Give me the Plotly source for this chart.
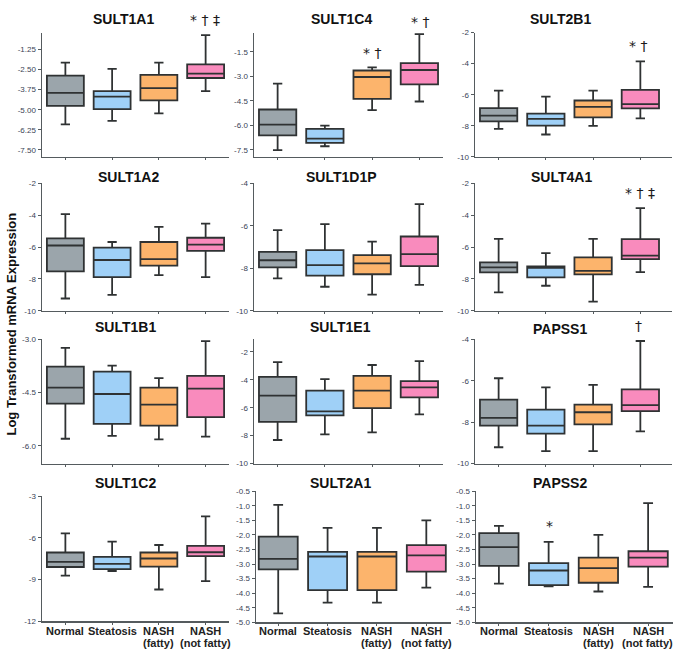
import plotly.graph_objects as go

W, H = 674, 655

groups = ["Normal", "Steatosis", "NASH<br>(fatty)", "NASH<br>(not fatty)"]
fill_colors = ["#9ba5ab", "#9fd0f7", "#fcb46c", "#f98bbd"]

genes = ["SULT1A1", "SULT1C4", "SULT2B1",
         "SULT1A2", "SULT1D1P", "SULT4A1",
         "SULT1B1", "SULT1E1", "PAPSS1",
         "SULT1C2", "SULT2A1", "PAPSS2"]

# each row: [lower whisker, Q1, median, Q3, upper whisker] for Normal, Steatosis, NASH fatty, NASH not fatty
SULT1A1 = [[-5.91, -4.76, -3.95, -2.88, -2.07], [-5.70, -4.97, -4.19, -3.84, -2.46],
           [-5.23, -4.42, -3.66, -2.84, -2.07], [-3.84, -3.03, -2.76, -2.19, -0.37]]
SULT1C4 = [[-7.52, -6.61, -5.96, -5.03, -3.45], [-7.28, -7.07, -6.81, -6.22, -6.02],
           [-5.07, -4.38, -3.04, -2.64, -2.45], [-4.54, -3.49, -2.61, -2.19, -0.41]]
SULT2B1 = [[-8.20, -7.71, -7.35, -6.86, -5.74], [-8.56, -7.99, -7.56, -7.22, -6.12],
           [-8.01, -7.46, -6.78, -6.37, -5.74], [-7.52, -6.88, -6.61, -5.69, -3.85]]
SULT1A2 = [[-9.23, -7.52, -5.90, -5.45, -3.92], [-9.00, -7.89, -6.81, -6.03, -5.68],
           [-7.76, -7.17, -6.75, -5.68, -4.73], [-7.89, -6.24, -5.84, -5.41, -4.52]]
SULT1D1P = [[-8.47, -7.96, -7.62, -7.22, -6.20], [-8.87, -8.34, -7.85, -7.14, -5.92],
            [-9.24, -8.28, -7.77, -7.38, -6.74], [-8.78, -7.90, -7.33, -6.50, -4.97]]
SULT4A1 = [[-8.85, -7.59, -7.28, -6.96, -5.48], [-8.43, -7.90, -7.30, -7.21, -6.38],
           [-9.43, -7.72, -7.49, -6.65, -5.48], [-7.57, -6.75, -6.54, -5.50, -3.55]]
SULT1B1 = [[-5.80, -4.81, -4.36, -3.77, -3.24], [-5.72, -5.38, -4.54, -3.91, -3.74],
           [-5.82, -5.43, -4.84, -4.36, -4.09], [-5.74, -5.19, -4.39, -4.03, -3.05]]
SULT1E1 = [[-8.31, -7.01, -5.13, -3.79, -2.73], [-7.91, -6.54, -6.26, -4.78, -3.95],
           [-7.76, -6.02, -4.78, -3.72, -2.94], [-6.47, -5.25, -4.54, -4.09, -2.66]]
PAPSS1 = [[-9.21, -8.17, -7.79, -6.91, -5.88], [-9.40, -8.55, -8.17, -7.39, -6.32],
          [-9.40, -8.11, -7.52, -7.15, -6.20], [-8.44, -7.47, -7.18, -6.42, -4.08]]
SULT1C2 = [[-8.71, -8.09, -7.72, -7.05, -5.68], [-8.38, -8.24, -7.86, -7.36, -6.27],
           [-9.71, -8.07, -7.48, -7.05, -6.51], [-9.11, -7.31, -7.03, -6.58, -4.45]]
SULT2A1 = [[-4.69, -3.18, -2.82, -2.06, -0.97], [-4.32, -3.89, -2.74, -2.58, -1.76],
           [-4.32, -3.89, -2.74, -2.58, -1.76], [-3.81, -3.26, -2.70, -2.35, -1.50]]
PAPSS2 = [[-3.67, -3.06, -2.42, -1.94, -1.69], [-3.76, -3.72, -3.22, -2.97, -2.24],
          [-3.94, -3.64, -3.14, -2.78, -2.00], [-3.78, -3.09, -2.78, -2.56, -0.91]]

stats = [SULT1A1, SULT1C4, SULT2B1, SULT1A2, SULT1D1P, SULT4A1,
         SULT1B1, SULT1E1, PAPSS1, SULT1C2, SULT2A1, PAPSS2]

# y tick labels per panel
ticks_a = ["-1.25", "-2.50", "-3.75", "-5.00", "-6.25", "-7.50"]
ticks_b = ["-1.5", "-3.0", "-4.5", "-6.0", "-7.5"]
ticks_c = ["-2", "-4", "-6", "-8", "-10"]
ticks_d = ["-4", "-6", "-8", "-10"]
ticks_e = ["-3.0", "-4.5", "-6.0"]
ticks_f = ["-3", "-6", "-9", "-12"]
ticks_g = ["-0.5", "-1.0", "-1.5", "-2.0", "-2.5", "-3.0", "-3.5", "-4.0", "-4.5", "-5.0"]
panel_ticks = [ticks_a, ticks_b, ticks_c, ticks_c, ticks_d, ticks_c,
               ticks_e, ticks_c, ticks_d, ticks_f, ticks_g, ticks_g]
y_ranges = [[-7.93, -0.21], [-7.93, -0.32], [-10, -2],
            [-10, -2], [-10, -4], [-10, -2],
            [-6.5, -3.0], [-10, -1.1], [-10, -4],
            [-12, -3], [-5.0, -0.5], [-5.0, -0.5]]

# significance marks: (panel index, group index, text)
sig_marks = [(0, 3, "* † ‡"), (1, 2, "* †"), (1, 3, "* †"), (2, 3, "* †"),
             (5, 3, "* † ‡"), (8, 3, "†"), (11, 1, "*")]

# ---- layout geometry (pixels) ----
x_dom = [[42, 229], [254, 443], [475, 672],
         [42, 229], [254, 443], [475, 672],
         [42, 229], [254, 443], [475, 672],
         [42, 229], [256, 451], [476, 673]]
x_rng = [[-0.5, 3.5], [-0.5, 3.5], [-0.5, 3.67]] * 3 + [[-0.5, 3.5], [-0.45, 3.5], [-0.46, 3.5]]
y_dom = [[29, 155]] * 3 + [[182, 311]] * 3 + [[340, 466]] * 3 + [[499, 626], [494, 627], [494, 627]]
title_pos = [(123, 15), (341, 15), (560, 15),
             (128, 175), (341, 175), (561, 175),
             (126, 327), (340, 327), (560, 330),
             (125, 486), (340, 486), (560, 486)]
sig_pos = {(0, 3): (205, 16), (1, 2): (372, 50), (1, 3): (420, 18), (2, 3): (638, 43),
           (5, 3): (640, 192), (8, 3): (638, 326), (11, 1): (549, 529)}
label_line_y = [636, 648]

def fx(p):
    return p / W

def fy(p):
    return 1 - p / H

FONT = "Liberation Sans, Arial"
fig = go.Figure()
layout = dict(width=W, height=H, margin=dict(l=0, r=0, t=0, b=0),
              paper_bgcolor="white", plot_bgcolor="white", showlegend=False,
              boxmode="overlay", annotations=[])

for i, gene in enumerate(genes):
    n = i + 1
    xa = "x" if n == 1 else f"x{n}"
    ya = "y" if n == 1 else f"y{n}"
    for g, grp in enumerate(groups):
        lo, q1, med, q3, up = stats[i][g]
        fig.add_trace(go.Box(
            x=[grp], q1=[q1], median=[med], q3=[q3], lowerfence=[lo], upperfence=[up],
            xaxis=xa, yaxis=ya, width=0.79, whiskerwidth=0.25, boxpoints=False,
            fillcolor=fill_colors[g], line=dict(color="#2f3233", width=1.8),
            hoverinfo="skip"))
    tv = [float(t) for t in panel_ticks[i]]
    layout["xaxis" if n == 1 else f"xaxis{n}"] = dict(
        domain=[fx(x_dom[i][0]), fx(x_dom[i][1])], anchor=ya, type="category",
        categoryorder="array", categoryarray=groups, range=x_rng[i],
        showline=True, linecolor="#555b5e", linewidth=1.5, showgrid=False, zeroline=False,
        ticks="outside", ticklen=2, tickcolor="#555b5e", showticklabels=False,
        fixedrange=True)
    layout["yaxis" if n == 1 else f"yaxis{n}"] = dict(
        domain=[fy(y_dom[i][1]), fy(y_dom[i][0])], anchor=xa, range=y_ranges[i],
        showline=True, linecolor="#555b5e", linewidth=1.5, showgrid=False, zeroline=False,
        ticks="outside", ticklen=3, tickcolor="#555b5e",
        tickvals=tv, ticktext=panel_ticks[i],
        tickfont=dict(family=FONT, size=8, color="#3a3f55"),
        fixedrange=True)
    tx, ty = title_pos[i]
    layout["annotations"].append(dict(
        text=gene, x=fx(tx), y=fy(ty), xref="paper", yref="paper", showarrow=False,
        xanchor="center", yanchor="middle",
        font=dict(family=FONT, size=14, color="#111", weight="bold")))
    if i >= 9:
        for g, grp in enumerate(groups):
            for li, line in enumerate(grp.split("<br>")):
                ann = dict(text=line, x=grp, xref=xa, y=fy(label_line_y[li]), yref="paper",
                           showarrow=False, xanchor="center", yanchor="middle",
                           borderpad=0, align="center",
                           font=dict(family=FONT, size=11, color="#222", weight="bold"))
                if i == 11 and g == 3 and li == 1:
                    # keep the last label inside the right edge
                    ann.update(x=fx(674), xref="paper", xanchor="right")
                layout["annotations"].append(ann)

for (pi, gi, txt) in sig_marks:
    sx, sy = sig_pos[(pi, gi)]
    layout["annotations"].append(dict(
        text=txt, x=fx(sx), y=fy(sy), xref="paper", yref="paper", showarrow=False,
        xanchor="center", yanchor="middle",
        font=dict(family="DejaVu Sans, Liberation Sans", size=14, color="#1a1a1a")))

layout["annotations"].append(dict(
    text="Log Transformed mRNA Expression", x=fx(12), y=fy(325), xref="paper", yref="paper",
    showarrow=False, textangle=-90, xanchor="center", yanchor="middle",
    font=dict(family=FONT, size=13, color="#111", weight="bold")))

fig.update_layout(**layout)
fig.write_html("out.html", config={"displayModeBar": False, "staticPlot": True},
               post_script="document.body.style.margin='0';document.body.style.overflow='hidden';")
